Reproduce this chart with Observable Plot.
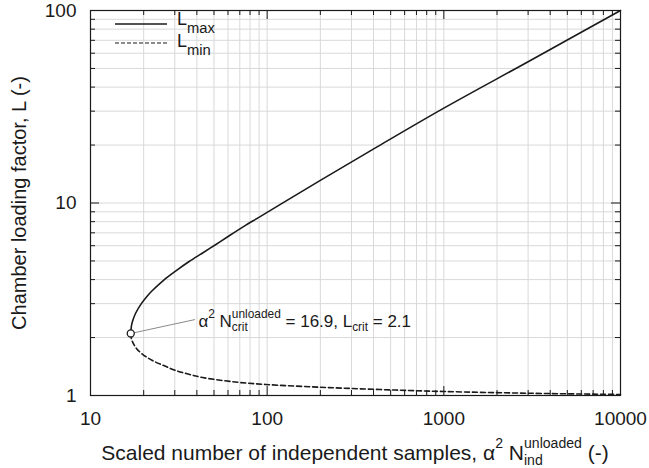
<!DOCTYPE html>
<html><head><meta charset="utf-8">
<script src="https://cdn.jsdelivr.net/npm/d3@7"></script>
<script src="https://cdn.jsdelivr.net/npm/@observablehq/plot@0.6"></script>
<style>body{margin:0;background:#fff}svg{display:block}</style>
</head><body><div id="chart"></div>
<script>
// ---- data ----
const xMajor = [10, 100, 1000, 10000];
const yMajor = [1, 10, 100];
const xMinor = [20,30,40,50,60,70,80,90,200,300,400,500,600,700,800,900,2000,3000,4000,5000,6000,7000,8000,9000];
const yMinor = [2,3,4,5,6,7,8,9,20,30,40,50,60,70,80,90];

// L_max branch (scaled N, L)
const maxN = [16.9, 17.05, 17.35, 18.0, 19.4, 20.8, 22.4, 26, 30.3, 36, 43.1, 51, 60.4, 75, 89.3, 122, 200, 419, 1000, 3000, 10000];
const maxL = [2.1, 2.3, 2.45, 2.675, 3.0, 3.26, 3.51, 3.98, 4.43, 4.95, 5.5, 6.07, 6.72, 7.63, 8.4, 9.99, 13.1, 19.56, 31.1, 54.2, 100];
// L_min branch
const minN = [16.9, 17.05, 17.3, 18, 19.5, 22.4, 26, 30.3, 36, 43.1, 66, 98, 200, 436, 1000, 3100, 10000];
const minL = [2.1, 1.97, 1.9, 1.78, 1.65, 1.52, 1.43, 1.35, 1.29, 1.24, 1.175, 1.141, 1.104, 1.074, 1.049, 1.027, 1.012];

const critN = 16.9, critL = 2.1;
const leaderN = 39, leaderL = 2.48;

const W = 649, H = 468, mL = 90, mR = 29, mT = 10, mB = 73;
const innerW = W - mL - mR, innerH = H - mT - mB;
const FONT = "'Liberation Sans', Arial, Helvetica, sans-serif";
const INK = "#1a1a1a";

const maxData = maxN.map((n, i) => ({n, L: maxL[i]}));
const minData = minN.map((n, i) => ({n, L: minL[i]}));

const plot = Plot.plot({
  width: W, height: H,
  marginLeft: mL, marginRight: mR, marginTop: mT, marginBottom: mB,
  style: {fontFamily: FONT, color: INK, background: "#fff"},
  x: {type: "log", domain: [10, 10000]},
  y: {type: "log", domain: [1, 100]},
  marks: [
    Plot.ruleX([...xMinor, ...xMajor], {stroke: "#d9d9d9", strokeWidth: 1}),
    Plot.ruleY([...yMinor, ...yMajor], {stroke: "#d9d9d9", strokeWidth: 1}),
    // inward ticks, bottom/top
    Plot.tickX(xMajor, {x: d => d, insetTop: innerH - 9, stroke: INK}),
    Plot.tickX(xMinor, {x: d => d, insetTop: innerH - 5, stroke: INK}),
    Plot.tickX(xMajor, {x: d => d, insetBottom: innerH - 9, stroke: INK}),
    Plot.tickX(xMinor, {x: d => d, insetBottom: innerH - 5, stroke: INK}),
    // inward ticks, left/right
    Plot.tickY(yMajor, {y: d => d, insetRight: innerW - 9, stroke: INK}),
    Plot.tickY(yMinor, {y: d => d, insetRight: innerW - 5, stroke: INK}),
    Plot.tickY(yMajor, {y: d => d, insetLeft: innerW - 9, stroke: INK}),
    Plot.tickY(yMinor, {y: d => d, insetLeft: innerW - 5, stroke: INK}),
    Plot.frame({stroke: INK, strokeWidth: 1.2}),
    Plot.axisX(xMajor, {anchor: "bottom", tickSize: 0, tickPadding: 16, fontSize: 19, tickFormat: d => String(d), label: null}),
    Plot.axisY(yMajor, {anchor: "left", tickSize: 0, tickPadding: 14, fontSize: 19, tickFormat: d => String(d), label: null}),
    Plot.text(["Chamber loading factor, L (-)"], {frameAnchor: "left", textAnchor: "middle", text: d => d, rotate: -90, dx: -71, fontSize: 20, fill: INK}),
    Plot.line(maxData, {x: "n", y: "L", stroke: INK, strokeWidth: 1.6, curve: "catmull-rom"}),
    Plot.line(minData, {x: "n", y: "L", stroke: INK, strokeWidth: 1.6, strokeDasharray: "5,3", curve: "catmull-rom"}),
    Plot.link([{x1: critN, y1: critL, x2: leaderN, y2: leaderL}], {x1: "x1", y1: "y1", x2: "x2", y2: "y2", stroke: "#8a8a8a", strokeWidth: 1}),
    Plot.dot([{n: critN, L: critL}], {x: "n", y: "L", r: 3.5, stroke: INK, strokeWidth: 1.3, fill: "#fff"})
  ]
});
document.getElementById("chart").appendChild(plot);

const xs = plot.scale("x"), ys = plot.scale("y");

// Arial / Liberation Sans advance widths (per 1000 em)
const CW = {" ":278,"(":333,")":333,",":278,"-":333,".":278,"=":584,
  "0":556,"1":556,"2":556,"3":556,"4":556,"5":556,"6":556,"7":556,"8":556,"9":556,
  "L":556,"N":722,"S":667,"C":722,"\u03b1":578,
  a:556,b:556,c:500,d:556,e:556,f:278,g:556,h:556,i:222,j:222,k:500,l:222,m:833,
  n:556,o:556,p:556,q:556,r:333,s:500,t:278,u:556,v:500,w:722,x:500,y:500,z:500};
function tw(s, size) { let w = 0; for (const ch of s) w += (CW[ch] ?? 556); return w * size / 1000; }

function rich(parts, {x, y, size, anchor = "start", subSize = 0.7, supShift = 0.5, subShift = 0.25}) {
  const text = d3.select(plot).append("text")
    .attr("x", x).attr("y", y)
    .attr("font-family", FONT).attr("font-size", size).attr("fill", INK)
    .attr("text-anchor", anchor).style("white-space", "pre");
  const ss = size * subSize;
  let base = 0, pendingDx = 0;
  for (const p of parts) {
    if (p.t !== undefined) {
      text.append("tspan").attr("dx", pendingDx).attr("dy", -base).attr("font-size", size).text(p.t);
      base = 0; pendingDx = 0;
    } else {
      const up = -size * supShift, down = size * subShift;
      const wSup = p.sup ? tw(p.sup, ss) : 0, wSub = p.sub ? tw(p.sub, ss) : 0;
      if (p.sup) {
        text.append("tspan").attr("dx", pendingDx).attr("dy", up - base).attr("font-size", ss).text(p.sup);
        base = up; pendingDx = 0;
      }
      if (p.sub) {
        text.append("tspan").attr("dx", pendingDx - wSup).attr("dy", down - base).attr("font-size", ss).text(p.sub);
        base = down; pendingDx = 0;
      }
      if (p.sup && p.sub) pendingDx = Math.max(wSup, wSub) - wSub;
    }
  }
  return text;
}

// x-axis title
rich([
  {t: "Scaled number of independent samples, \u03b1"}, {sup: "2"}, {t: " N"},
  {sup: "unloaded", sub: "ind"}, {t: " (-)"}
], {x: mL + innerW / 2, y: H - 8, size: 21, anchor: "middle", subSize: 0.67, supShift: 0.55, subShift: 0.22});

// annotation
rich([
  {t: "\u03b1"}, {sup: "2"}, {t: " N"}, {sup: "unloaded", sub: "crit"},
  {t: " = 16.9, L"}, {sub: "crit"}, {t: " = 2.1"}
], {x: xs.apply(leaderN) + 4, y: ys.apply(leaderL) + 8, size: 17, supShift: 0.55, subShift: 0.22});

// legend
const lg = d3.select(plot).append("g");
const lx = mL + 25, ly1 = mT + 14, ly2 = mT + 33;
lg.append("line").attr("x1", lx).attr("x2", lx + 52).attr("y1", ly1).attr("y2", ly1).attr("stroke", INK).attr("stroke-width", 1.5);
lg.append("line").attr("x1", lx).attr("x2", lx + 52).attr("y1", ly2).attr("y2", ly2).attr("stroke", INK).attr("stroke-width", 1.2).attr("stroke-dasharray", "4,2");
rich([{t: "L"}, {sub: "max"}], {x: lx + 62, y: ly1 + 1, size: 18, subSize: 0.82, subShift: 0.42});
rich([{t: "L"}, {sub: "min"}], {x: lx + 62, y: ly2 + 4, size: 18, subSize: 0.82, subShift: 0.42});
</script>
</body></html>
